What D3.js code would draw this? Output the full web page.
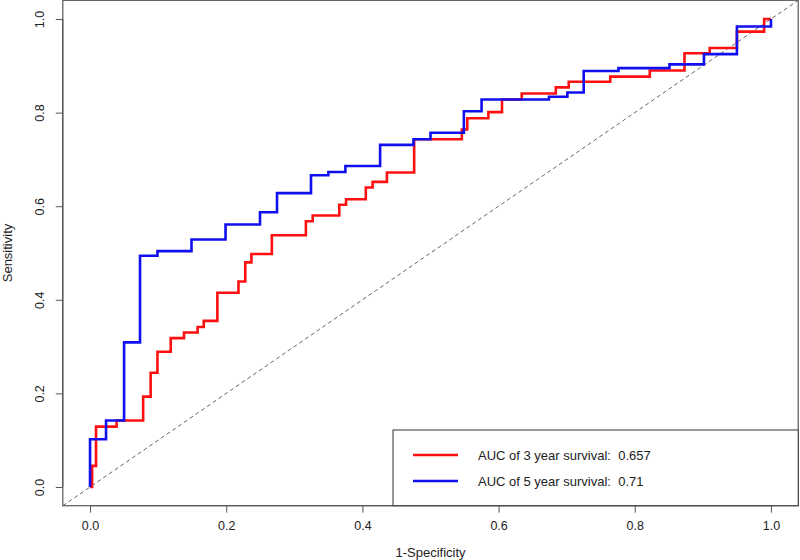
<!DOCTYPE html>
<html><head><meta charset="utf-8">
<script src="https://cdn.jsdelivr.net/npm/d3@7"></script>
<style>body{margin:0;background:#fff}svg{display:block}text{font-family:"Liberation Sans",Arial,sans-serif;fill:#222}</style>
</head><body><svg id="c" width="800" height="560"></svg>
<script>
// tick labels
const xTicks = [0, 0.2, 0.4, 0.6, 0.8, 1.0];
const yTicks = [0, 0.2, 0.4, 0.6, 0.8, 1.0];
// ROC step points: [1-specificity, sensitivity] at each vertical jump
const roc3 = [[0,0],[0.003,0.045],[0.0088,0.129],[0.039,0.142],[0.078,0.193],[0.089,0.244],[0.099,0.289],[0.1185,0.318],[0.138,0.33],[0.158,0.342],[0.167,0.355],[0.187,0.415],[0.218,0.439],[0.228,0.48],[0.237,0.498],[0.267,0.538],[0.317,0.568],[0.327,0.58],[0.366,0.603],[0.376,0.615],[0.405,0.64],[0.415,0.652],[0.436,0.672],[0.476,0.743],[0.546,0.764],[0.554,0.788],[0.585,0.801],[0.605,0.828],[0.634,0.841],[0.684,0.854],[0.703,0.866],[0.764,0.877],[0.822,0.89],[0.873,0.927],[0.91,0.938],[0.95,0.973],[0.99,1.0],[1.0,1.0]];
const roc5 = [[0,0],[0,0.102],[0.0235,0.142],[0.05,0.309],[0.0734,0.494],[0.099,0.504],[0.149,0.529],[0.199,0.561],[0.2496,0.587],[0.2746,0.628],[0.3245,0.666],[0.35,0.673],[0.375,0.686],[0.426,0.731],[0.475,0.743],[0.5,0.757],[0.549,0.803],[0.575,0.828],[0.674,0.834],[0.701,0.843],[0.725,0.889],[0.776,0.895],[0.851,0.903],[0.9016,0.925],[0.95,0.984],[1.0,1.0]];
const seriesNames = ["AUC of 3 year survival:  0.657", "AUC of 5 year survival:  0.71"];
const seriesColors = ["#ff1010", "#1010ee"];

const svg = d3.select("#c");
const x = d3.scaleLinear().domain([-0.04, 1.04]).range([62.8, 798.2]);
const y = d3.scaleLinear().domain([-0.04, 1.04]).range([505.7, 0.3]);

// diagonal
svg.append("line").attr("x1", x(-0.04)).attr("y1", y(-0.04)).attr("x2", x(1.04)).attr("y2", y(1.04))
  .attr("stroke", "#666").attr("stroke-width", 1).attr("stroke-dasharray", "4,3");

const line = d3.line().x(d => x(d[0])).y(d => y(d[1])).curve(d3.curveStepAfter);
[roc3, roc5].forEach((s, i) => {
  svg.append("path").datum(s).attr("d", line).attr("fill", "none")
    .attr("stroke", seriesColors[i]).attr("stroke-width", 2.6);
});

// box
svg.append("rect").attr("x", x(-0.04)).attr("y", y(1.04)).attr("width", x(1.04) - x(-0.04)).attr("height", y(-0.04) - y(1.04))
  .attr("fill", "none").attr("stroke", "#555").attr("stroke-width", 1.2);

// x axis
const xa = svg.append("g").attr("transform", `translate(0,${y(-0.04)})`)
  .call(d3.axisBottom(x).tickValues(xTicks).tickFormat(d3.format(".1f")).tickSize(7).tickPadding(8));
xa.select(".domain").attr("d", `M${x(0)},0H${x(1)}`).attr("stroke", "#555");
xa.selectAll(".tick line").attr("stroke", "#555");
xa.selectAll("text").attr("font-size", 12.5).attr("fill", "#222").attr("font-family", "Liberation Sans, Arial, sans-serif");

// y axis
const ya = svg.append("g").attr("transform", `translate(${x(-0.04)},0)`)
  .call(d3.axisLeft(y).tickValues(yTicks).tickFormat(d3.format(".1f")).tickSize(7).tickPadding(0));
ya.select(".domain").attr("d", `M0,${y(0)}V${y(1)}`).attr("stroke", "#555");
ya.selectAll(".tick line").attr("stroke", "#555");
ya.selectAll(".tick text").attr("font-size", 12.5).attr("fill", "#222").attr("font-family", "Liberation Sans, Arial, sans-serif")
  .attr("x", null).attr("text-anchor", "middle")
  .attr("transform", "translate(-23,0) rotate(-90)").attr("dy", "0.35em");

// axis titles
svg.append("text").attr("x", x(0.5)).attr("y", 557).attr("text-anchor", "middle").attr("font-size", 13).text("1-Specificity");
svg.append("text").attr("transform", `translate(12,${y(0.5)}) rotate(-90)`).attr("text-anchor", "middle").attr("font-size", 13).text("Sensitivity");

// legend
const lg = svg.append("g");
lg.append("rect").attr("x", 393).attr("y", 430).attr("width", x(1.04) - 393).attr("height", y(-0.04) - 430)
  .attr("fill", "#fff").attr("stroke", "#333").attr("stroke-width", 1);
seriesNames.forEach((n, i) => {
  const yy = 455 + i * 26;
  lg.append("line").attr("x1", 413).attr("x2", 458).attr("y1", yy).attr("y2", yy).attr("stroke", seriesColors[i]).attr("stroke-width", 2.6);
  lg.append("text").attr("x", 478).attr("y", yy).attr("dy", "0.35em").attr("font-size", 13).style("white-space", "pre").text(n);
});
</script></body></html>
